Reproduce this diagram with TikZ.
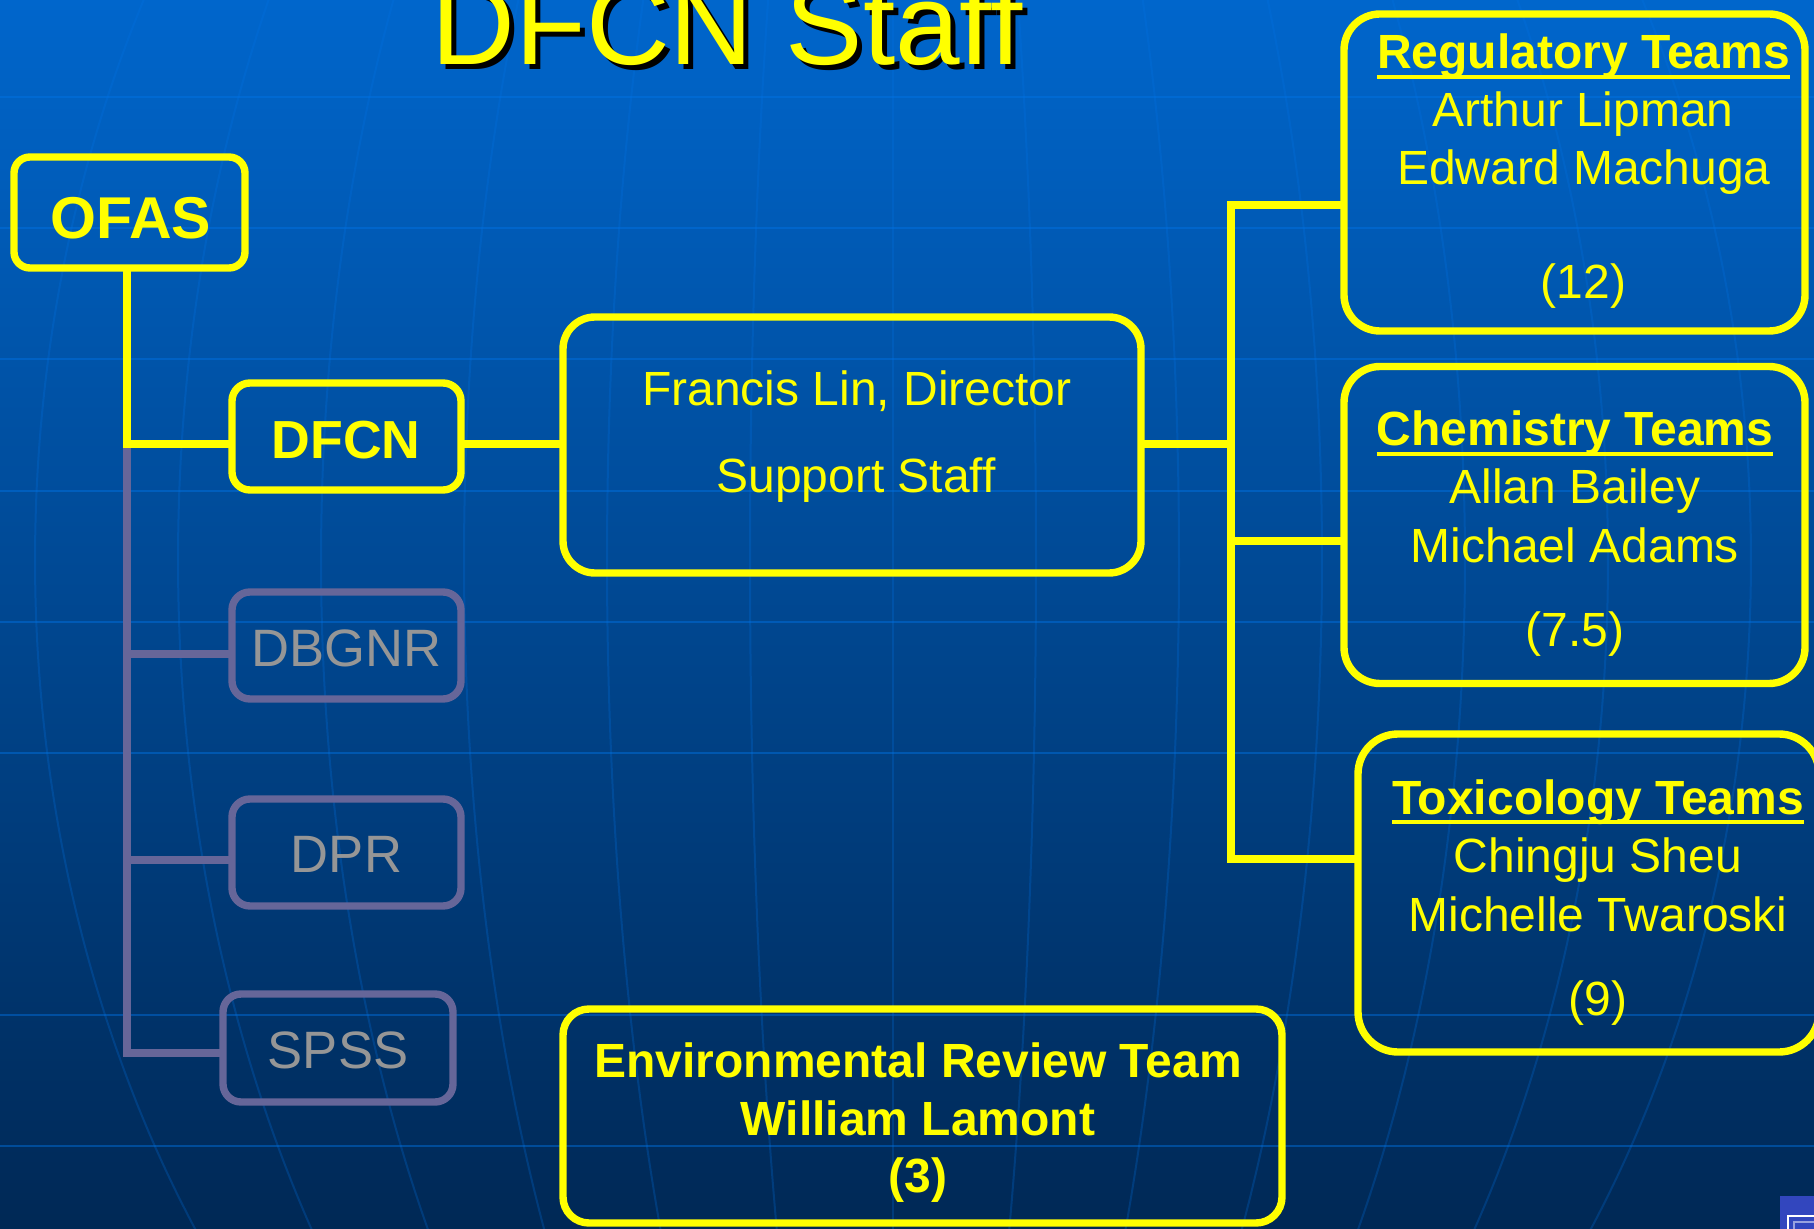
\documentclass[tikz,border=0pt]{standalone}
\usepackage{fontspec}
\setmainfont{Liberation Sans}
\usetikzlibrary{calc}
\definecolor{bgtop}{RGB}{0,102,204}
\definecolor{bgmid}{RGB}{0,76,152}
\definecolor{bgbot}{RGB}{0,40,85}
\definecolor{gridc}{RGB}{0,115,230}
\definecolor{ylw}{RGB}{255,255,0}
\definecolor{grb}{RGB}{102,102,153}
\definecolor{grt}{RGB}{150,150,150}
\definecolor{iconb}{RGB}{50,70,190}
\begin{document}
\begin{tikzpicture}[x=0.5pt,y=-0.5pt,
  ybox/.style={draw=ylw, line width=3.7pt, rectangle, inner sep=0pt, outer sep=0pt},
  gbox/.style={draw=grb, line width=3.7pt, rectangle, inner sep=0pt, outer sep=0pt, rounded corners=9pt, minimum width=114.5pt, minimum height=53.5pt},
  yline/.style={draw=ylw, line width=3.7pt},
  gline/.style={draw=grb, line width=3.7pt},
  txt/.style={inner sep=0pt, outer sep=0pt, anchor=base, text=ylw, font=\fontsize{24}{28}\selectfont},
  btxt/.style={txt, font=\fontsize{24}{28}\selectfont\bfseries},
  gtxt/.style={txt, text=grt, font=\fontsize{26.3}{30}\selectfont},
  uline/.style={draw=ylw, line width=2.2pt},
  bgline/.style={draw=gridc, opacity=0.45, line width=1.2pt},
  mline/.style={draw=gridc, opacity=0.25, line width=1pt},
]
\useasboundingbox (0,0) rectangle (1814,1229);
\clip (0,0) rectangle (1814,1229);
% background
\shade[top color=bgtop, middle color=bgmid, bottom color=bgbot] (0,0) rectangle (1814,1229);
\foreach \yy in {97,228,359,491,622,753,1015,1146}
  \draw[bgline] (0,\yy) -- (1814,\yy);
\foreach \k in {-6,...,6}
  \draw[mline] plot[domain=-31:37, samples=40, smooth] ({893+143*\k*cos(\x)},{560+1150*sin(\x)});
% icon corner
\fill[iconb] (1780,1196) rectangle (1830,1240);
\draw[white, line width=1.3pt] (1788,1216) rectangle (1840,1250);
\draw[iconb!50!white, line width=1pt] (1794,1222) rectangle (1840,1250);

% title
\node[txt, text=black, font=\fontsize{58}{64}\selectfont] (titleshadow) at (732,70) {DFCN Staff};
\node[txt, font=\fontsize{58}{64}\selectfont] (title) at (727,65) {DFCN Staff};

% boxes
\node[ybox, rounded corners=8pt, minimum width=115.5pt, minimum height=55.5pt] (ofas) at (129.5,212.5) {};
\node[ybox, rounded corners=9pt, minimum width=114.5pt, minimum height=53.5pt] (dfcn) at (346.5,436.5) {};
\node[gbox] (dbgnr) at (346.5,645.5) {};
\node[gbox] (dpr) at (346.5,852.5) {};
\node[gbox, minimum width=115pt, minimum height=54pt] (spss) at (338,1048) {};
\node[ybox, rounded corners=16pt, minimum width=289pt, minimum height=128pt] (dir) at (852,445) {};
\node[ybox, rounded corners=18pt, minimum width=230.5pt, minimum height=158.5pt] (reg) at (1574.5,172.5) {};
\node[ybox, rounded corners=18pt, minimum width=230.5pt, minimum height=158.5pt] (chem) at (1574.5,525) {};
\node[ybox, rounded corners=20pt, minimum width=230.5pt, minimum height=159pt] (tox) at (1588.5,893) {};
\node[ybox, rounded corners=13pt, minimum width=359.5pt, minimum height=107pt] (env) at (922.5,1116) {};

% junction coordinates
\coordinate (j0) at (127,444);
\coordinate (g1) at (127,654);
\coordinate (g2) at (127,860);
\coordinate (g3) at (127,1053);
\coordinate (j1) at (1231,444);
\coordinate (b0) at (1231,205);
\coordinate (b1) at (1231,541);
\coordinate (b2) at (1231,859);

% connectors
\draw[gline] (j0) -- (g3) -- (g3 -| spss.west);
\draw[gline] (g1) -- (g1 -| dbgnr.west);
\draw[gline] (g2) -- (g2 -| dpr.west);
\draw[yline] (ofas.south -| j0) -- (j0) -- (j0 -| dfcn.west);
\draw[yline] (dfcn.east |- j1) -- (dir.west |- j1);
\draw[yline] (dir.east |- j1) -- (j1);
\draw[yline] (b0 -| reg.west) -- (b0) -- (b2) -- (b2 -| tox.west);
\draw[yline] (b1) -- (b1 -| chem.west);

% texts
\node[btxt, font=\fontsize{29.5}{33}\selectfont\bfseries] (ofast) at (131,239) {OFAS};
\node[btxt, font=\fontsize{26.8}{30}\selectfont\bfseries] (dfcnt) at (346,459) {DFCN};
\node[gtxt] (dbgnrt) at (346.5,666) {DBGNR};
\node[gtxt] (dprt) at (346.5,872) {DPR};
\node[gtxt] (spsst) at (338,1068) {SPSS};

\node[txt] (dir1) at (857,406) {Francis Lin, Director};
\node[txt] (dir2) at (856,493) {Support Staff};

\node[btxt] (regt) at (1583.5,69) {Regulatory Teams};
\node[txt] (reg1) at (1583,127) {Arthur Lipman};
\node[txt] (reg2) at (1584,185) {Edward Machuga};
\node[txt] (reg3) at (1583.5,299) {(12)};

\node[btxt] (chemt) at (1575,446) {Chemistry Teams};
\node[txt] (chem1) at (1575,504) {Allan Bailey};
\node[txt] (chem2) at (1575,562) {Michael Adams};
\node[txt] (chem3) at (1575,646) {(7.5)};

\node[btxt] (toxt) at (1598,814) {Toxicology Teams};
\node[txt] (tox1) at (1598,872) {Chingju Sheu};
\node[txt] (tox2) at (1598,931) {Michelle Twaroski};
\node[txt] (tox3) at (1598,1015) {(9)};

\node[btxt] (env1) at (918,1077) {Environmental Review Team};
\node[btxt] (env2) at (918,1135) {William Lamont};
\node[btxt] (env3) at (918,1192) {(3)};

% underlines
\draw[uline] ($(regt.base west)+(0,8)$) -- ($(regt.base east)+(0,8)$);
\draw[uline] ($(chemt.base west)+(0,8)$) -- ($(chemt.base east)+(0,8)$);
\draw[uline] ($(toxt.base west)+(0,8)$) -- ($(toxt.base east)+(0,8)$);
\end{tikzpicture}
\end{document}
